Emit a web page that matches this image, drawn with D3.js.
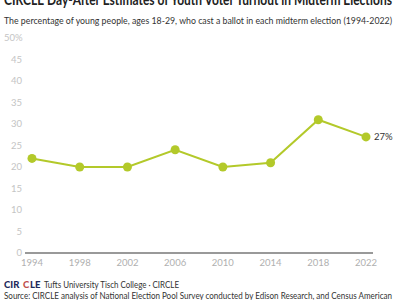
<!DOCTYPE html>
<html>
<head>
<meta charset="utf-8">
<script src="https://cdn.jsdelivr.net/npm/d3@7"></script>
<style>
	body { margin: 0; background: #fff; }
	svg { display: block; font-family: Lato, "Open Sans", sans-serif; }
</style>
</head>
<body>
<div id="chart"></div>
<script>
const years = ["1994", "1998", "2002", "2006", "2010", "2014", "2018", "2022"];
const turnout = [22, 20, 20, 24, 20, 21, 31, 27];
const yTicks = [0, 5, 10, 15, 20, 25, 30, 35, 40, 45, 50];

const width = 400;
const height = 300;
const lineColor = "#b3c92a";

const svg = d3
	.select("#chart")
	.append("svg")
	.attr("width", width)
	.attr("height", height);

// title (mostly cropped at the top in the reference)
svg
	.append("text")
	.attr("x", 4)
	.attr("y", 5)
	.attr("font-size", 15)
	.attr("font-weight", 700)
	.attr("fill", "#222")
	.attr("textLength", 388)
	.attr("lengthAdjust", "spacingAndGlyphs")
	.text("CIRCLE Day-After Estimates of Youth Voter Turnout in Midterm Elections");

svg
	.append("text")
	.attr("x", 4)
	.attr("y", 24)
	.attr("font-size", 9.6)
	.attr("fill", "#333")
	.attr("textLength", 388)
	.attr("lengthAdjust", "spacingAndGlyphs")
	.text("The percentage of young people, ages 18-29, who cast a ballot in each midterm election (1994-2022)");

const x = d3.scalePoint().domain(years).range([32, 366]);
const y = d3.scaleLinear().domain([0, 50]).range([253, 38]);

// y tick labels
svg
	.append("g")
	.selectAll("text")
	.data(yTicks)
	.enter()
	.append("text")
	.attr("x", (d) => (d === 50 ? 4 : 22))
	.attr("y", (d) => y(d))
	.attr("dy", "0.35em")
	.attr("text-anchor", (d) => (d === 50 ? "start" : "end"))
	.attr("font-size", 9.5)
	.attr("fill", "#c4c4c4")
	.text((d) => (d === 50 ? "50%" : d));

// baseline
svg
	.append("line")
	.attr("x1", 25)
	.attr("x2", 373)
	.attr("y1", y(0))
	.attr("y2", y(0))
	.attr("stroke", "#999")
	.attr("stroke-width", 2);

// x tick labels
svg
	.append("g")
	.selectAll("text")
	.data(years)
	.enter()
	.append("text")
	.attr("x", (d) => x(d))
	.attr("y", 266)
	.attr("text-anchor", "middle")
	.attr("font-size", 9.5)
	.attr("fill", "#b0b0b0")
	.text((d) => d);

const data = years.map((yr, i) => ({ year: yr, value: turnout[i] }));

const line = d3
	.line()
	.x((d) => x(d.year))
	.y((d) => y(d.value));

svg
	.append("path")
	.datum(data)
	.attr("fill", "none")
	.attr("stroke", lineColor)
	.attr("stroke-width", 2)
	.attr("d", line);

svg
	.append("g")
	.selectAll("circle")
	.data(data)
	.enter()
	.append("circle")
	.attr("cx", (d) => x(d.year))
	.attr("cy", (d) => y(d.value))
	.attr("r", 4.5)
	.attr("fill", lineColor);

// last value label
const last = data[data.length - 1];
svg
	.append("text")
	.attr("x", x(last.year) + 8)
	.attr("y", y(last.value))
	.attr("dy", "0.35em")
	.attr("font-size", 9.5)
	.attr("fill", "#333")
	.text(`${last.value}%`);

// footer
const footer = svg.append("g");
footer
	.append("text")
	.attr("x", 4)
	.attr("y", 288)
	.attr("font-size", 9.5)
	.attr("font-weight", 900)
	.attr("fill", "#1f2a5a")
	.text("CIR");
footer
	.append("text")
	.attr("x", 23)
	.attr("y", 288)
	.attr("font-size", 9.5)
	.attr("font-weight", 900)
	.attr("fill", "#c0504d")
	.text("C");
footer
	.append("text")
	.attr("x", 30)
	.attr("y", 288)
	.attr("font-size", 9.5)
	.attr("font-weight", 900)
	.attr("fill", "#1f2a5a")
	.text("LE");
footer
	.append("text")
	.attr("x", 44)
	.attr("y", 288)
	.attr("font-size", 9.3)
	.attr("fill", "#333")
	.attr("textLength", 135)
	.attr("lengthAdjust", "spacingAndGlyphs")
	.text("Tufts University Tisch College · CIRCLE");
footer
	.append("text")
	.attr("x", 4)
	.attr("y", 299)
	.attr("font-size", 9.3)
	.attr("fill", "#333")
	.attr("textLength", 388)
	.attr("lengthAdjust", "spacingAndGlyphs")
	.text("Source: CIRCLE analysis of National Election Pool Survey conducted by Edison Research, and Census American");
</script>
</body>
</html>
